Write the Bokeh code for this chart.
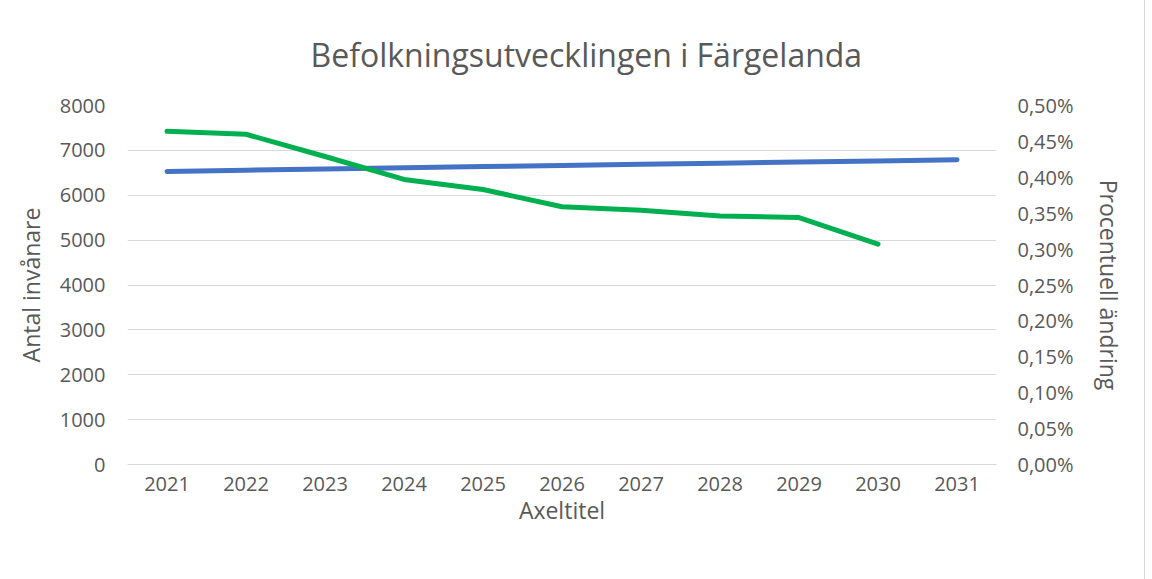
from bokeh.plotting import figure
from bokeh.models import (FactorRange, Range1d, LinearAxis, FixedTicker, Legend,
                          LegendItem, ColumnDataSource)
from bokeh.embed import file_html
from bokeh.resources import INLINE

# ---- data ----
years = ["2021", "2022", "2023", "2024", "2025", "2026", "2027", "2028", "2029", "2030", "2031"]
invanare = [6530, 6558, 6585, 6612, 6640, 6665, 6690, 6715, 6740, 6765, 6790]
pct_years = ["2021", "2022", "2023", "2024", "2025", "2026", "2027", "2028", "2029", "2030"]
pct_okning = [0.464, 0.460, 0.429, 0.397, 0.383, 0.359, 0.354, 0.346, 0.344, 0.307]
left_ticks = [0, 1000, 2000, 3000, 4000, 5000, 6000, 7000, 8000]
right_ticks = [0.0, 0.05, 0.10, 0.15, 0.20, 0.25, 0.30, 0.35, 0.40, 0.45, 0.50]
right_labels = ["0,00%", "0,05%", "0,10%", "0,15%", "0,20%", "0,25%",
                "0,30%", "0,35%", "0,40%", "0,45%", "0,50%"]

FONT = "Open Sans"
TXT = "#595959"
BLUE = "#4472C4"
GREEN = "#00B050"

p = figure(frame_width=869, frame_height=359, x_range=FactorRange(*years),
           y_range=Range1d(0, 8000), output_backend="svg", toolbar_location=None,
           title="Befolkningsutvecklingen i Färgelanda",
           min_border_left=127, min_border_right=148, min_border_top=104,
           min_border_bottom=0)
p.styles = {"outline": "1px solid #D9D9D9"}
p.outline_line_color = None
p.background_fill_color = "white"
p.border_fill_color = "white"

p.title.align = "left"
p.title.offset = 183
p.title.text_font = FONT
p.title.text_font_size = "32px"
p.title.text_font_style = "normal"
p.title.text_color = TXT
p.title.standoff = 60

p.extra_y_ranges = {"pct": Range1d(0, 0.5)}

src1 = ColumnDataSource(dict(x=years, y=invanare))
src2 = ColumnDataSource(dict(x=pct_years, y=pct_okning))
r1 = p.line("x", "y", source=src1, line_color=BLUE, line_width=5, line_cap="round", line_join="round")
r2 = p.line("x", "y", source=src2, line_color=GREEN, line_width=5, line_cap="round", line_join="round",
            y_range_name="pct")

# grid
p.xgrid.grid_line_color = None
p.ygrid.grid_line_color = "#D9D9D9"
p.ygrid.grid_line_width = 1
p.ygrid.ticker = FixedTicker(ticks=left_ticks)

def style_axis(ax):
    ax.axis_line_color = None
    ax.major_tick_line_color = None
    ax.minor_tick_line_color = None
    ax.major_tick_out = 0
    ax.major_tick_in = 0
    ax.minor_tick_out = 0
    ax.major_label_text_font = FONT
    ax.major_label_text_font_size = "20px"
    ax.major_label_text_color = TXT
    ax.axis_label_text_font = FONT
    ax.axis_label_text_font_size = "23px"
    ax.axis_label_text_font_style = "normal"
    ax.axis_label_text_color = TXT

# left axis
ly = p.yaxis[0]
ly.ticker = FixedTicker(ticks=left_ticks)
ly.axis_label = "Antal invånare"
style_axis(ly)
ly.major_label_standoff = 22
ly.axis_label_standoff = 10

# x axis
xa = p.xaxis[0]
xa.axis_label = "Axeltitel"
style_axis(xa)
xa.major_label_standoff = 12
xa.axis_label_standoff = 0
xa.axis_line_color = "#D9D9D9"

# right axis
ry = LinearAxis(y_range_name="pct", axis_label="Procentuell ändring",
                ticker=FixedTicker(ticks=right_ticks))
ry.major_label_overrides = {t: l for t, l in zip(right_ticks, right_labels)}
style_axis(ry)
ry.major_label_standoff = 21
ry.axis_label_standoff = 16
p.add_layout(ry, "right")

legend = Legend(items=[LegendItem(label="Invånare", renderers=[r1]),
                       LegendItem(label="Procentuell ökning", renderers=[r2])],
                orientation="horizontal", location=(198, 0),
                glyph_width=55, glyph_height=20, label_standoff=3, spacing=10,
                label_width=307,
                padding=0, margin=0, border_line_color=None, background_fill_alpha=0,
                label_text_font=FONT, label_text_font_size="21px", label_text_color=TXT)
p.add_layout(legend, "below")

open("out.html", "w").write(file_html(p, INLINE))
